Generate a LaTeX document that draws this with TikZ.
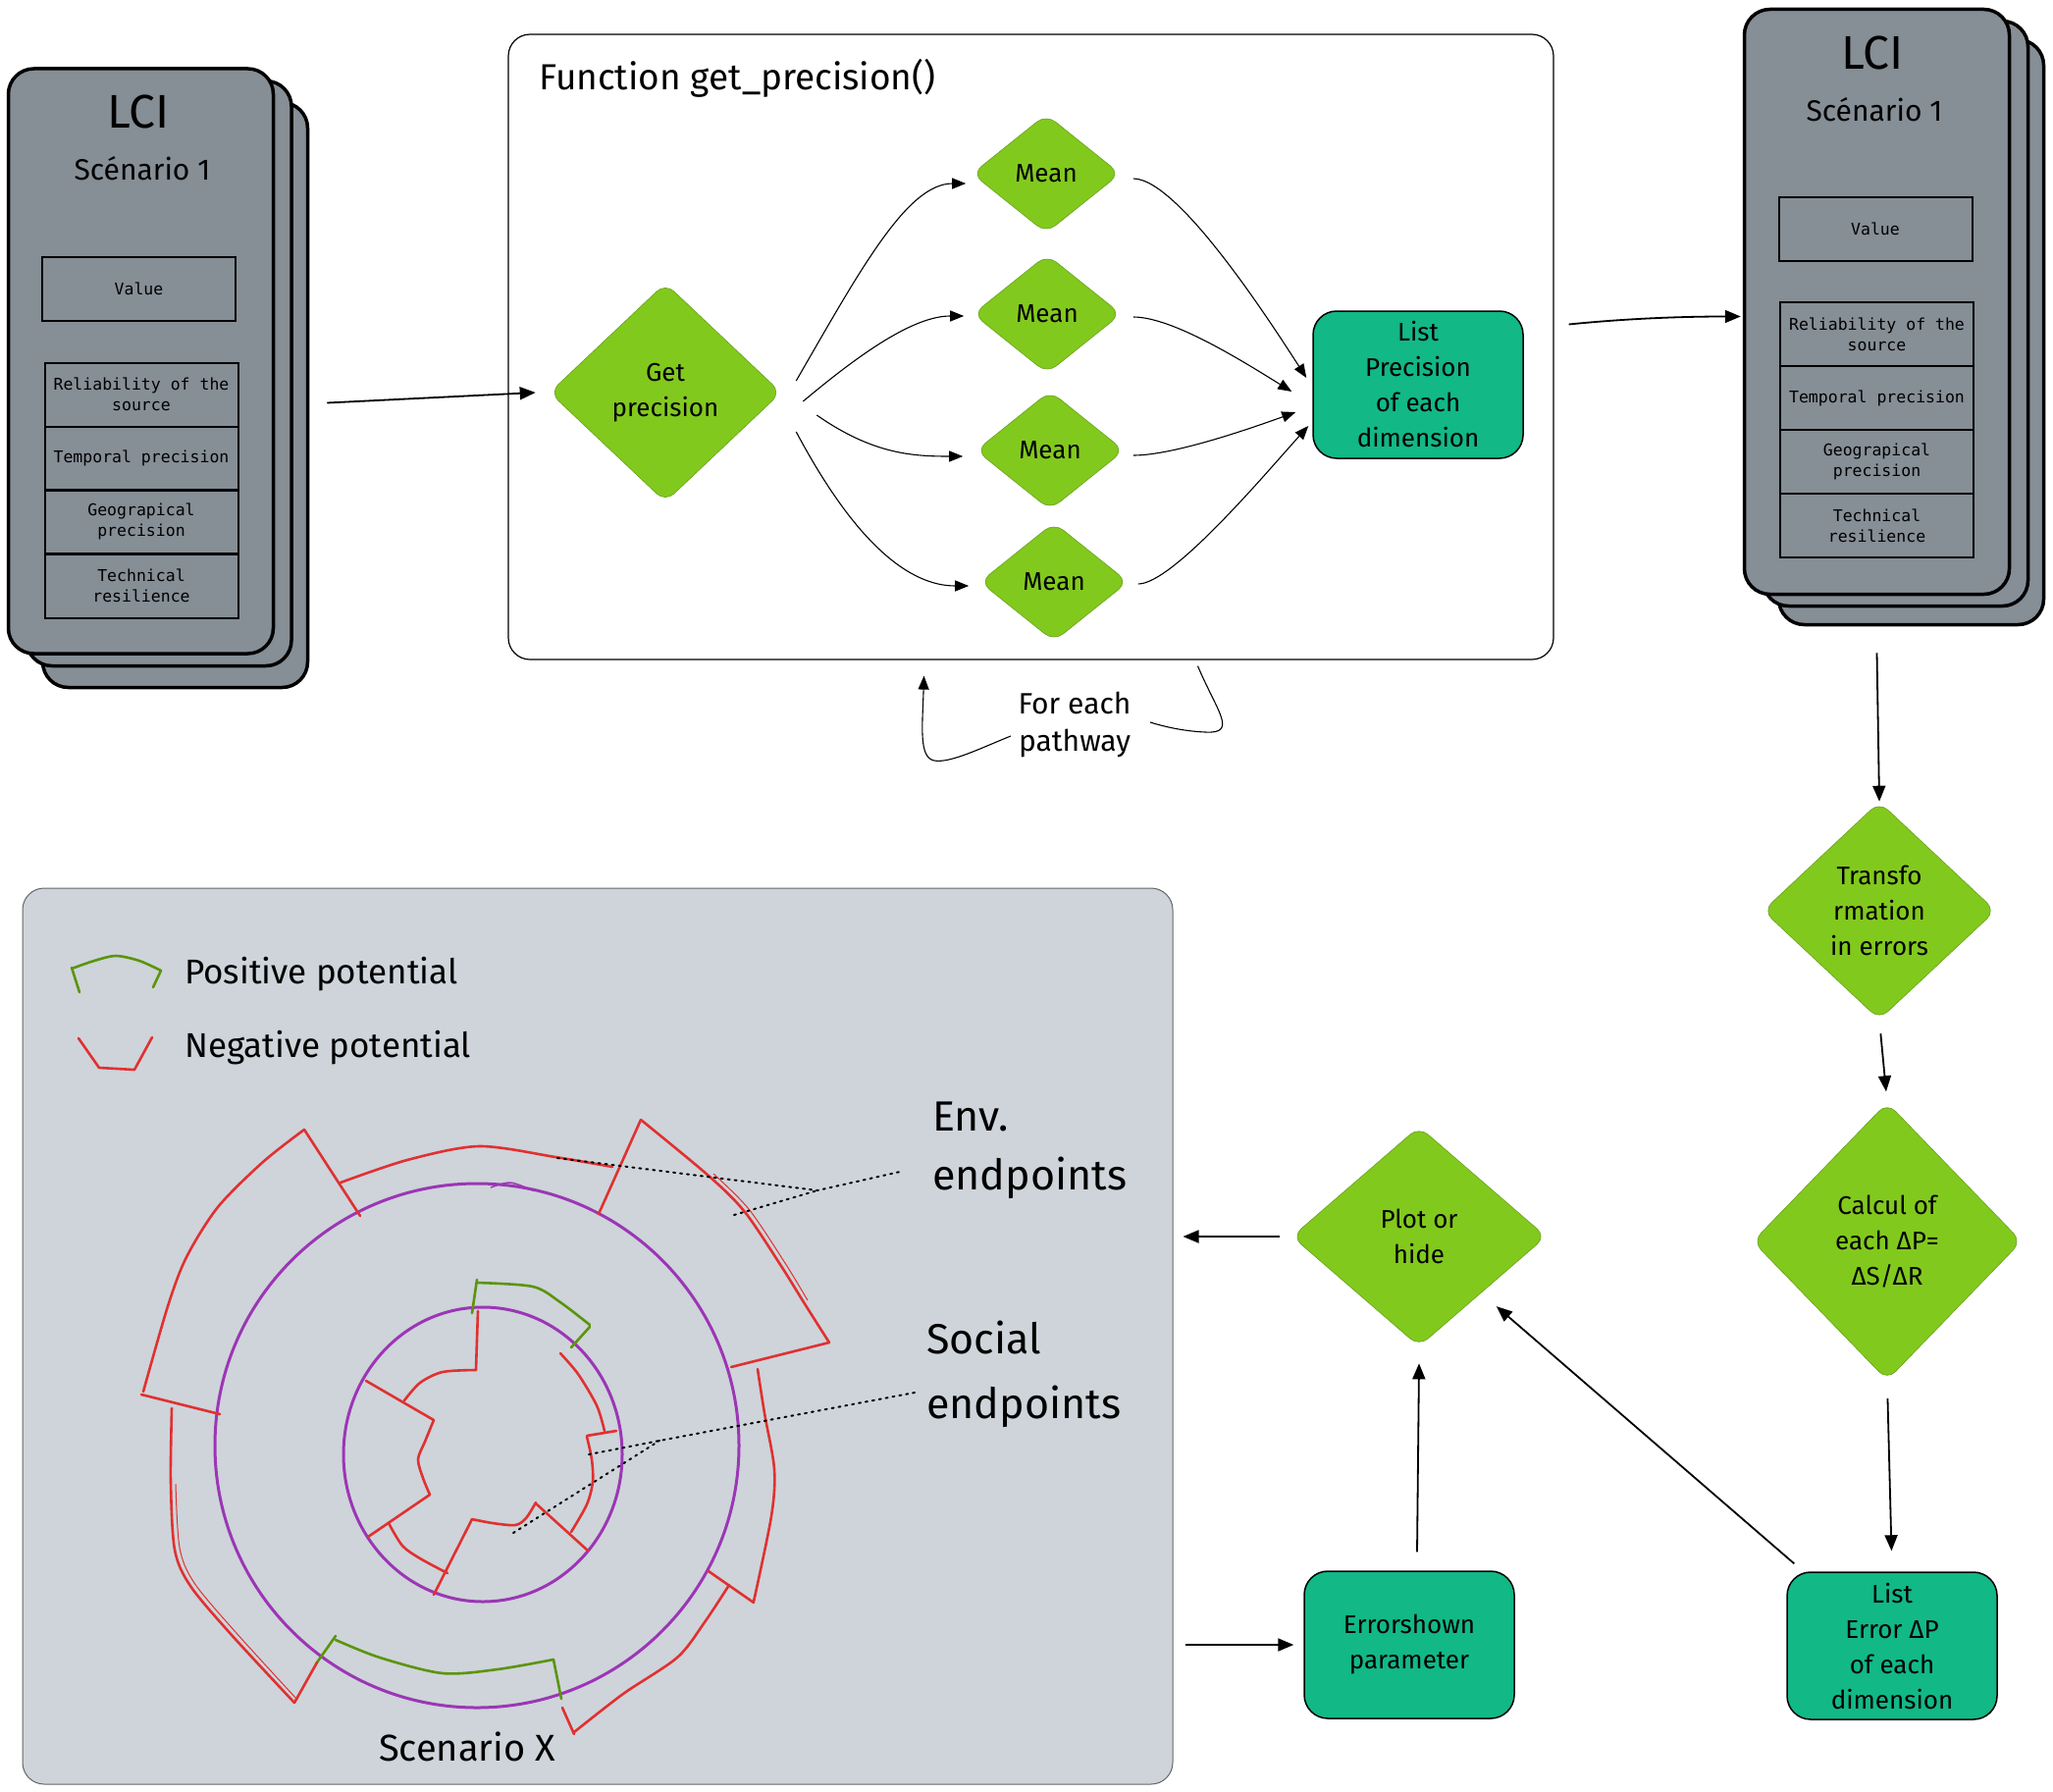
\documentclass[tikz,border=0pt]{standalone}
\usepackage{fontspec}
\setmainfont{Fira Sans}
\newfontfamily\monof{DejaVu Sans Mono}
\usetikzlibrary{shapes.geometric,arrows.meta,calc}
\definecolor{cardgray}{HTML}{868E96}
\definecolor{limeg}{HTML}{82C91E}
\definecolor{tealg}{HTML}{12B886}
\definecolor{panelg}{HTML}{CED4DA}
\definecolor{grape}{HTML}{9C36B5}
\definecolor{redc}{HTML}{E03131}
\definecolor{greenc}{HTML}{5C940D}
\newcommand{\fsz}[2]{\fontsize{#1}{#2}\selectfont}
\begin{document}
\begin{tikzpicture}[x=1pt,y=-1pt,
  card/.style={draw=black, line width=3.5pt, fill=cardgray, rounded corners=26pt, minimum width=270pt, minimum height=596pt, inner sep=0pt},
  row/.style={draw=black, line width=2pt, minimum width=197pt, minimum height=65pt, inner sep=0pt, align=center, font=\monof\fsz{16.5}{21}},
  dia/.style={diamond, fill=limeg, draw=limeg!80!black, line width=0.6pt, rounded corners=12pt, inner sep=0pt, align=center, font=\fsz{26}{36}},
  tbox/.style={draw=black, line width=1.5pt, fill=tealg, rounded corners=24pt, minimum width=214pt, minimum height=150pt, inner sep=0pt, align=center, font=\fsz{26}{36}},
  arr/.style={-{Triangle[length=16pt,width=13pt]}, line width=1.8pt},
  farr/.style={-{Triangle[length=14pt,width=11pt]}, line width=1.1pt},
  seg/.style={line width=2.6pt, line cap=round, line join=round},
  dots/.style={line width=2pt, dash pattern=on 2pt off 5pt, line cap=round},
  lbl/.style={inner sep=0pt, align=left}
]
\fill[white] (0,0) rectangle (2092,1825);
\useasboundingbox (0,0) rectangle (2092,1825);

% ---------- left LCI card stack ----------
\node[card] (lc3) at (178.5,402.5) {};
\node[card] (lc2) at (162,380.5) {};
\node[card] (lc1) at (143.5,368) {};
\node[font=\fsz{48}{50}] (lcil) at (141,114) {LCI};
\node[font=\fsz{30}{34}] (scl) at (145,172) {Scénario 1};
\node[row] (lv) at (141.5,294.5) {Value};
\node[row] (lr1) at (144,402) {Reliability of the\\source};
\node[row] (lr2) at (144,467) {Temporal precision};
\node[row] (lr3) at (144,531.5) {Geograpical\\precision};
\node[row] (lr4) at (144,597) {Technical\\resilience};

% ---------- right LCI card stack ----------
\node[card] (rc3) at (1947.5,338.5) {};
\node[card] (rc2) at (1931.5,319.5) {};
\node[card] (rc1) at (1912.5,307.5) {};
\node[font=\fsz{48}{50}] (lcir) at (1908,54) {LCI};
\node[font=\fsz{30}{34}] (scr) at (1910,112) {Scénario 1};
\node[row] (rv) at (1911,233.5) {Value};
\node[row] (rr1) at (1912.5,340.5) {Reliability of the\\source};
\node[row] (rr2) at (1912.5,405.5) {Temporal precision};
\node[row] (rr3) at (1912.5,470.5) {Geograpical\\precision};
\node[row] (rr4) at (1912.5,535.5) {Technical\\resilience};

% ---------- function box ----------
\node[draw=black, line width=1.2pt, fill=white, rounded corners=22pt, minimum width=1065pt, minimum height=637pt] (fbox) at (1050.5,353.5) {};
\node[lbl, anchor=west, font=\fsz{37}{40}] (ftitle) at (549,80) {Function get\_precision()};
\node[dia, minimum width=236pt, minimum height=223pt] (gp) at (678,400) {Get\\precision};
\node[dia, minimum width=151pt, minimum height=121pt] (m1) at (1066,177) {Mean};
\node[dia, minimum width=151pt, minimum height=121pt] (m2) at (1067,320) {Mean};
\node[dia, minimum width=151pt, minimum height=121pt] (m3) at (1070,459) {Mean};
\node[dia, minimum width=151pt, minimum height=121pt] (m4) at (1074,593) {Mean};
\node[tbox] (lp) at (1445,392) {List\\Precision\\of each\\dimension};

\draw[farr] ($(gp.east)+(15,-12)$) .. controls +(60:130pt) and +(-60,0) .. ($(m1.west)+(-6,10)$);
\draw[farr] ($(gp.east)+(22,9)$) .. controls +(40:80pt) and +(-50,0) .. ($(m2.west)+(-9,2)$);
\draw[farr] ($(gp.east)+(36,23)$) .. controls +(-35:70pt) and +(-50,0) .. ($(m3.west)+(-13,6)$);
\draw[farr] ($(gp.east)+(15,40)$) .. controls +(-62:130pt) and +(-60,0) .. ($(m4.west)+(-11,4)$);

\draw[farr] ($(m1.east)+(13,5)$) .. controls +(45,0) and +(-40,-62) .. ($(lp.west)+(-6,-7)$);
\draw[farr] ($(m2.east)+(12,3)$) .. controls +(40,0) and +(-50,-31) .. ($(lp.west)+(-21,7)$);
\draw[farr] ($(m3.east)+(9,5)$) .. controls +(40,0) and +(-50,18) .. ($(lp.west)+(-17,28)$);
\draw[farr] ($(m4.east)+(10,2)$) .. controls +(35,0) and +(-45,50) .. ($(lp.west)+(-4,42)$);

% loop label
\node[font=\fsz{30}{38}, align=center] (fe) at (1095,738) {For each\\pathway};
\draw[line width=1.1pt] ($(fbox.south)+(170,6)$) .. controls (1240,725) and (1262,748) .. (1228,746) .. controls (1205,745) and (1185,740) .. ($(fe.east)+(16,-2)$);
\draw[farr] ($(fe.west)+(-4,12)$) .. controls (1000,762) and (968,778) .. (952,775) .. controls (936,772) and (940,740) .. ($(fbox.south)+(-109,16)$);

% top arrows
\draw[arr] ($(lc3.east)+(18,8)$) -- ($(gp.west)+(-14,0)$);
\draw[arr] ($(fbox.east)+(15,-23)$) .. controls +(60,-6) and +(-60,0) .. ($(rc1.west)+(-2,15)$);

% ---------- right-hand flow ----------
\node[dia, minimum width=237pt, minimum height=222pt] (tr) at (1915,928) {Transfo\\rmation\\in errors};
\node[dia, minimum width=274pt, minimum height=283pt] (ca) at (1923,1265) {Calcul of\\each ΔP=\\ΔS/ΔR};
\node[tbox] (le) at (1928,1677) {List\\Error ΔP\\of each\\dimension};
\node[dia, minimum width=259pt, minimum height=224pt] (pl) at (1446,1260) {Plot or\\hide};
\node[tbox] (es) at (1436,1676) {Errorshown\\parameter};

\draw[arr] ($(rc1.south)+(0,58)$) -- (tr.north);
\draw[arr, shorten <=14pt, shorten >=11pt] (tr.south) -- (ca.north);
\draw[arr, shorten <=18pt, shorten >=21pt] (ca.south) -- (le.north);
\draw[arr] ($(le.north west)+(8,-8)$) -- ($(pl.south east)+(14,15)$);
\draw[arr] ($(es.north)+(8,-19)$) -- ($(pl.south)+(0,17)$);

% ---------- bottom panel ----------
\node[draw=black!60, line width=1pt, fill=panelg, rounded corners=22pt, minimum width=1172pt, minimum height=913pt] (panel) at (609,1361.5) {};
\draw[arr, shorten <=12pt, shorten >=10pt] (pl.west) -- (pl.west -| panel.east);
\draw[arr, shorten <=12pt, shorten >=10pt] (es.west -| panel.east) -- (es.west);

% legend
\draw[seg, greenc] plot[smooth] coordinates {(73,987) (96,979) (118,974) (142,979) (164,989)};
\draw[seg, greenc] (73,986) -- (81,1011);
\draw[seg, greenc] (164,989) -- (156,1006);
\draw[seg, redc] (80,1058) -- (101,1088) -- (137,1090) -- (155,1057);
\node[lbl, anchor=west, font=\fsz{35}{40}] (pos) at (188,993) {Positive potential};
\node[lbl, anchor=west, font=\fsz{35}{40}] (neg) at (188,1068) {Negative potential};

% rings
\draw[grape, line width=3pt] (486,1473) circle [radius=267];
\draw[grape, line width=3pt] (492,1482) ellipse [x radius=142, y radius=150];
\draw[grape, line width=1.5pt] plot[smooth] coordinates {(500,1210) (520,1205) (543,1213)};

% outer segments
\draw[seg, redc] (310,1151) -- (367,1239);
\draw[seg, redc] plot[smooth] coordinates {(347,1205) (415,1182) (488,1168) (566,1179) (624,1189)};
\draw[seg, redc] (653,1141) -- (610,1237);
\draw[seg, redc] plot[smooth] coordinates {(653,1141) (722,1198) (759,1235) (796,1290) (819,1327) (845,1368)};
\draw[redc, line width=1pt] plot[smooth] coordinates {(727,1196) (763,1232) (800,1287) (823,1325)};
\draw[seg, redc] (845,1368) -- (745,1393);
\draw[seg, redc] plot[smooth] coordinates {(772,1395) (779,1440) (789,1497) (786,1545) (768,1632)};
\draw[seg, redc] (722,1601) -- (768,1633);
\draw[seg, redc] plot[smooth] coordinates {(743,1615) (718,1653) (690,1689) (635,1726) (585,1765)};
\draw[seg, redc] (573,1740) -- (585,1767);
\draw[seg, greenc] (323,1694) -- (342,1667);
\draw[seg, greenc] plot[smooth] coordinates {(342,1671) (387,1689) (451,1705) (507,1701) (564,1691)};
\draw[seg, greenc] (564,1691) -- (572,1731);
\draw[seg, redc] plot[smooth] coordinates {(175,1435) (174,1510) (178,1579) (194,1616) (236,1666) (300,1735)};
\draw[redc, line width=1pt] plot[smooth] coordinates {(179,1512) (183,1577) (198,1613) (240,1663) (303,1732)};
\draw[seg, redc] (300,1735) -- (323,1694);
\draw[seg, redc] plot[smooth] coordinates {(310,1151) (268,1184) (222,1230) (190,1281) (171,1331) (146,1418)};
\draw[seg, redc] (144,1421) -- (224,1441);

% inner segments
\draw[seg, greenc] (481,1338) -- (486,1304);
\draw[seg, greenc] plot[smooth] coordinates {(486,1307) (543,1311) (571,1327) (601,1350)};
\draw[seg, greenc] (601,1352) -- (582,1373);
\draw[seg, redc] (487,1336) -- (485,1396);
\draw[seg, redc] plot[smooth] coordinates {(485,1396) (451,1398) (428,1409) (412,1427)};
\draw[seg, redc] (373,1407) -- (442,1447);
\draw[seg, redc] plot[smooth] coordinates {(442,1447) (433,1469) (426,1487) (431,1506) (438,1523)};
\draw[seg, redc] (438,1523) -- (375,1566);
\draw[seg, redc] plot[smooth] coordinates {(396,1552) (410,1575) (428,1588) (456,1603)};
\draw[seg, redc] (442,1625) -- (481,1548);
\draw[seg, redc] plot[smooth] coordinates {(481,1548) (502,1552) (525,1554) (536,1547) (546,1531)};
\draw[seg, redc] (546,1532) -- (599,1580);
\draw[seg, redc] plot[smooth] coordinates {(582,1561) (598,1533) (604,1510) (603,1487) (598,1464)};
\draw[seg, redc] (598,1463) -- (628,1458);
\draw[seg, redc] plot[smooth] coordinates {(616,1458) (608,1432) (589,1400) (571,1379)};

% labels and dotted leaders
\node[lbl, anchor=west, font=\fsz{43}{60}] (envt) at (950,1172) {Env.\\endpoints};
\node[lbl, anchor=west, font=\fsz{43}{66}] (soct) at (944,1400) {Social\\endpoints};
\coordinate (eh) at (833,1213);
\draw[dots] (568,1180) -- (eh) -- ($(envt.west)+(-33,22)$);
\draw[dots] (748,1238) -- (eh);
\coordinate (sh) at (672,1468);
\draw[dots] (600,1482) -- (sh) -- ($(soct.west)+(-12,19)$);
\draw[dots] (523,1562) -- (sh);
\node[font=\fsz{38}{40}] (scx) at (476,1780) {Scenario X};
\end{tikzpicture}
\end{document}
